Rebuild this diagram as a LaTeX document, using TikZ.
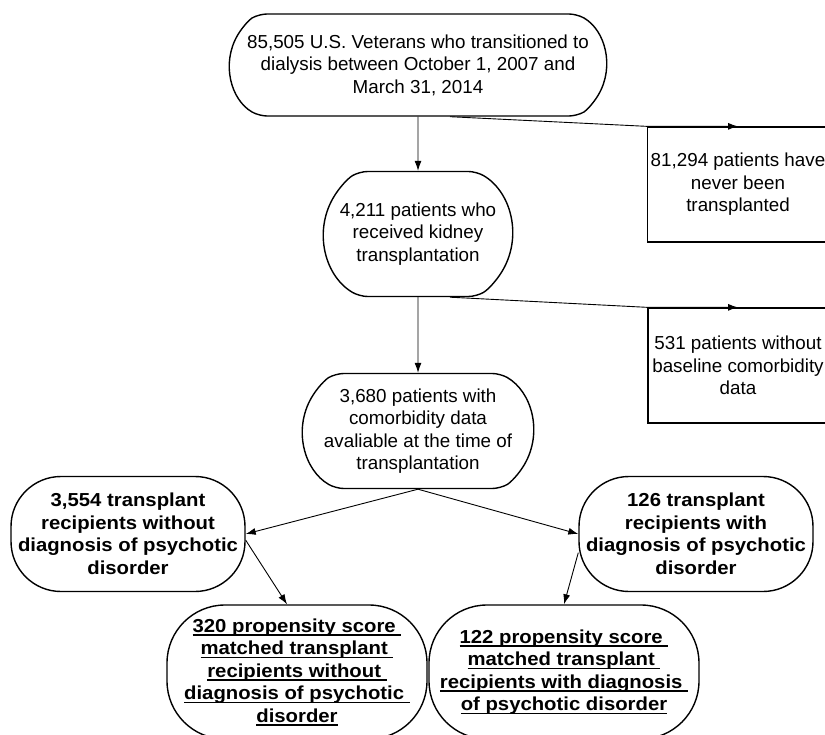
\documentclass[tikz,border=0pt]{standalone}
\usepackage{fontspec}
\setmainfont{Liberation Sans}[BoldFeatures={FakeStretch=1.08}]
\usetikzlibrary{shapes.misc, positioning, arrows.meta}
\newcommand{\ulline}[1]{\setbox0\hbox{#1}\leavevmode\rlap{\rule[-3.5pt]{\wd0}{1.4pt}}\box0}

\begin{document}
\begin{tikzpicture}[->,>={Latex[length=10pt,width=7pt]},x=1pt,y=-1pt,line width=0.9pt,on grid,
            font=\fontsize{18.8pt}{22.5pt}\selectfont]
            \tikzstyle{stage}=[draw,rounded rectangle,rounded rectangle arc length=120,
                               rounded corners=8pt,line width=1.4pt,align=center,inner sep=2pt]
            \tikzstyle{group}=[draw,rectangle,rounded corners=50pt,line width=1.4pt,align=center,
                               inner sep=0pt,font=\fontsize{18.8pt}{22.5pt}\selectfont\bfseries]
            \tikzstyle{excl}=[draw,rectangle,line width=1.3pt,align=center,
                              minimum width=180pt,minimum height=115pt]

            \useasboundingbox (0,0) rectangle (825,735);
            \clip (0,0) rectangle (825,735);

            \node[stage,minimum width=381pt,minimum height=102pt] (all) at (418,65)
                {85,505 U.S. Veterans who transitioned to\\dialysis between October 1, 2007 and\\March 31, 2014};
            \node[stage,minimum width=193pt,minimum height=125pt] (tx) [below=169pt of all]
                {4,211 patients who\\received kidney\\transplantation};
            \node[stage,minimum width=235pt,minimum height=115pt] (com) [below=197pt of tx]
                {3,680 patients with\\comorbidity data\\avaliable at the time of\\transplantation};
            \node[excl] (never) [below right=119.5pt and 320pt of all]
                {81,294 patients have\\never been\\transplanted};
            \node[excl] (nobase) [below right=131.5pt and 320pt of tx]
                {531 patients without\\baseline comorbidity\\data};

            \node[group,minimum width=234pt,minimum height=115pt] (nopsy) [below left=103pt and 290pt of com]
                {3,554 transplant\\recipients without\\diagnosis of psychotic\\disorder};
            \node[group,minimum width=234pt,minimum height=115pt] (psy) [below right=103pt and 278pt of com]
                {126 transplant\\recipients with\\diagnosis of psychotic\\disorder};
            \node[group,rounded corners=58pt,minimum width=260pt,minimum height=134pt] (mnopsy) [below right=138pt and 169pt of nopsy]
                {\ulline{320 propensity score\ }\\\ulline{matched transplant\ }\\\ulline{recipients without\ }\\
                 \ulline{diagnosis of psychotic\ }\\\ulline{disorder}};
            \node[group,rounded corners=58pt,minimum width=270pt,minimum height=134pt] (mpsy) [below left=138pt and 132pt of psy]
                {\ulline{122 propensity score\ }\\\ulline{matched transplant\ }\\
                 \ulline{recipients with diagnosis\ }\\\ulline{of psychotic disorder}};

            \path (all) edge (tx)
            (tx) edge (com)
            (com.south) edge (nopsy.east)
            (com.south) edge (psy.west)
            (nopsy.357) edge ([xshift=-10pt]mnopsy.north)
            (psy.189) edge (mpsy.north);

            \draw ([xshift=32pt]all.south) -- (never.north west) -- (never.north);
            \draw ([xshift=32pt]tx.south) -- (nobase.north west) -- (nobase.north);

        \end{tikzpicture}
\end{document}
